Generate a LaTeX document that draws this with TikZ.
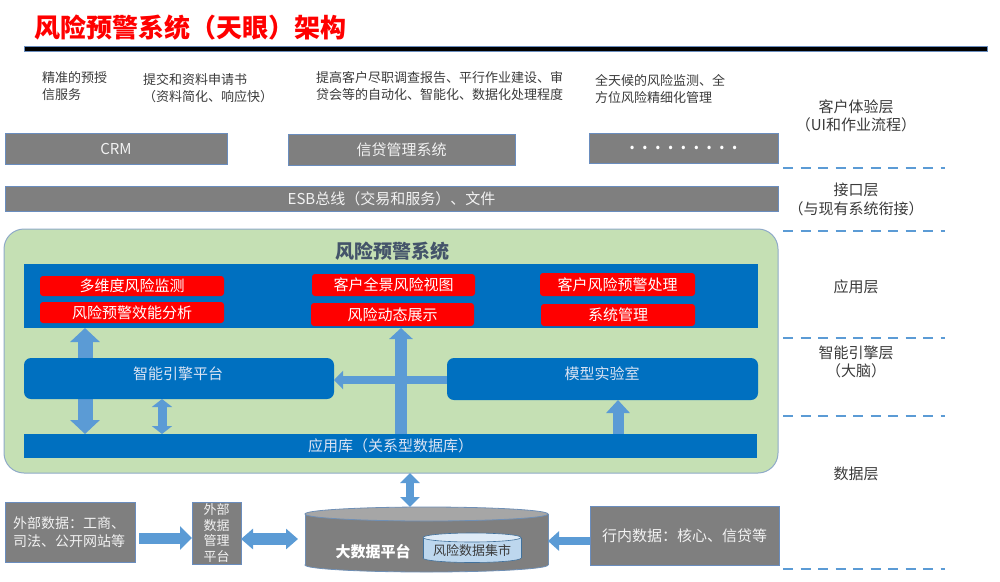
\documentclass[tikz,border=0pt]{standalone}
\usepackage{fontspec}
\setmainfont{Noto Sans CJK SC}
\usetikzlibrary{arrows.meta,calc}
\definecolor{boxgray}{HTML}{7F7F7F}
\definecolor{boxedge}{HTML}{6A8DBE}
\definecolor{boxtext}{HTML}{F2F2F2}
\definecolor{dashblue}{HTML}{5B9BD5}
\definecolor{arrowblue}{HTML}{5B9BD5}
\definecolor{greenfill}{HTML}{C5E0B4}
\definecolor{greenedge}{HTML}{8FAAC8}
\definecolor{appblue}{HTML}{0070C0}
\definecolor{bluetext}{HTML}{DAE3F3}
\definecolor{titlegray}{HTML}{44546A}
\definecolor{darktext}{HTML}{3A3A3A}
\definecolor{cyltop}{HTML}{A6A6A6}
\definecolor{cyledge}{HTML}{6F8FB5}
\definecolor{smallbody}{HTML}{BDD7EE}
\definecolor{smalltop}{HTML}{DEEBF7}
\definecolor{smalledge}{HTML}{41719C}
\newcommand{\fsz}[2]{\fontsize{#1pt}{#2pt}\selectfont}
\begin{document}
\begin{tikzpicture}[x=1pt,y=-1pt,
  every node/.style={inner sep=0pt,outer sep=0pt},
  graybox/.style={fill=boxgray, draw=boxedge, line width=0.8pt, text=boxtext, font=\fsz{15}{18}},
  redbox/.style={fill=red, rounded corners=3pt, text=white, font=\fsz{15}{18}},
  bluebox/.style={fill=appblue},
  toptext/.style={anchor=west, align=left, text=darktext, font=\fsz{13}{17}},
  layertext/.style={align=center, text=darktext, font=\fsz{15}{18.5}},
  layerline/.style={draw=dashblue, line width=2.5pt, dash pattern=on 10pt off 7.5pt},
  varrow/.style n args={3}{draw=arrowblue, line width=#1pt, -{Triangle[width=#2pt,length=#3pt]}},
  dvarrow/.style n args={3}{draw=arrowblue, line width=#1pt, {Triangle[width=#2pt,length=#3pt]}-{Triangle[width=#2pt,length=#3pt]}}
]
\useasboundingbox (0,0) rectangle (1000,581);

% title
\node[text=red, font=\fsz{26}{30}\bfseries] (title) at (190.5,28) {风险预警系统（天眼）架构};
\filldraw[fill=black, draw=boxedge, line width=0.8pt] (24,46) rectangle (987,51);

% top descriptions
\node[toptext] (t1) at (42,86.5) {精准的预授\\信服务};
\node[toptext] (t2) at (143,88.5) {提交和资料申请书\\（资料简化、响应快）};
\node[toptext] (t3) at (316,86.5) {提高客户尽职调查报告、平行作业建设、审\\贷会等的自动化、智能化、数据化处理程度};
\node[toptext] (t4) at (595,88.5) {全天候的风险监测、全\\方位风险精细化管理};

% gray systems
\node[graybox, minimum width=222pt, minimum height=31pt] (crm) at (116,148.5) {CRM};
\node[graybox, minimum width=227pt, minimum height=31pt] (xd) at (401.5,149.5) {信贷管理系统};
\node[graybox, minimum width=189pt, minimum height=30pt, font=\fsz{16}{18}\bfseries, text=white] (dots) at (683.5,148)
  {.\hspace{7.2pt}.\hspace{7.2pt}.\hspace{7.2pt}.\hspace{7.2pt}.\hspace{7.2pt}.\hspace{7.2pt}.\hspace{7.2pt}.\hspace{7.2pt}.};
\node[graybox, minimum width=773pt, minimum height=25pt] (esb) at (391.5,198.5) {ESB总线（交易和服务）、文件};

% layer separators and labels
\coordinate (d1a) at (783,168); \coordinate (d1b) at (945,168);
\coordinate (d2a) at (783,231); \coordinate (d2b) at (945,231);
\coordinate (d3a) at (783,338); \coordinate (d3b) at (945,338);
\coordinate (d4a) at (783,416); \coordinate (d4b) at (945,416);
\coordinate (d5a) at (783,569); \coordinate (d5b) at (945,569);
\draw[layerline] (d1a) -- (d1b);
\draw[layerline] (d2a) -- (d2b);
\draw[layerline] (d3a) -- (d3b);
\draw[layerline] (d4a) -- (d4b);
\draw[layerline] (d5a) -- (d5b);
\node[layertext] (l1) at (856,116) {客户体验层\\（UI和作业流程）};
\node[layertext] (l2) at (856,199.5) {接口层\\（与现有系统衔接）};
\node[layertext] (l3) at (856,287) {应用层};
\node[layertext] (l4) at (856,362) {智能引擎层\\（大脑）};
\node[layertext] (l5) at (856,474) {数据层};

% risk warning system container
\node[fill=greenfill, draw=greenedge, line width=1pt, rounded corners=20pt, minimum width=774pt, minimum height=244pt] (green) at (391,351) {};
\node[text=titlegray, font=\fsz{19}{22}\bfseries] (gtitle) at (392,251) {风险预警系统};
\node[bluebox, minimum width=734pt, minimum height=64pt] (app) at (391,296) {};
\node[redbox, minimum width=184pt, minimum height=20pt] (r1) at (132,286) {多维度风险监测};
\node[redbox, minimum width=184pt, minimum height=21pt] (r2) at (132,312.5) {风险预警效能分析};
\node[redbox, minimum width=163pt, minimum height=22pt] (r3) at (393.5,285) {客户全景风险视图};
\node[redbox, minimum width=163pt, minimum height=23pt] (r4) at (392.5,314.5) {风险动态展示};
\node[redbox, minimum width=155pt, minimum height=23pt] (r5) at (617.5,284.5) {客户风险预警处理};
\node[redbox, minimum width=154pt, minimum height=22pt] (r6) at (618,315) {系统管理};

\node[bluebox, minimum width=733pt, minimum height=24pt, text=bluetext, font=\fsz{15}{18}] (lib) at (390.5,446) {应用库（关系型数据库）};

% arrows inside
\draw[dvarrow={15}{29}{14}] (85,0 |- app.south) -- (85,0 |- lib.north);
\draw[varrow={8}{18}{9}] (447,380) -- (334,380);
\draw[varrow={12}{23}{11}] (401,0 |- lib.north) -- (401,0 |- app.south);

\node[bluebox, rounded corners=7pt, minimum width=310pt, minimum height=41pt] (eng) at (179,378.5) {};
\node[text=bluetext, font=\fsz{15}{18}] (engt) at (178,374) {智能引擎平台};
\node[bluebox, rounded corners=7pt, minimum width=311pt, minimum height=42pt] (model) at (602.5,379) {};
\node[text=bluetext, font=\fsz{15}{18}] (modelt) at (602,374) {模型实验室};

\draw[dvarrow={9}{20}{8}] (162,0 |- eng.south) -- (162,0 |- lib.north);
\draw[varrow={11}{23}{13}] (618,0 |- lib.north) -- (618,0 |- model.south);

% data layer
\node[graybox, minimum width=130pt, minimum height=60pt] (ext) at (70,532) {};
\node[anchor=west, align=left, text=boxtext, font=\fsz{14}{18}] (extt) at (13,532) {外部数据：工商、\\司法、公开网站等};
\node[graybox, minimum width=49pt, minimum height=62pt, font=\fsz{13}{15.7}, align=center] (emp) at (216.5,533) {外部\\数据\\管理\\平台};
\node[graybox, minimum width=189pt, minimum height=59pt] (inner) at (684.5,535.5) {行内数据：核心、信贷等};

% big data cylinder
\filldraw[fill=boxgray, draw=cyledge, line width=0.8pt] (426.5,565) ellipse [x radius=121.5pt, y radius=7pt];
\fill[boxgray] (305,514) rectangle (548,565);
\draw[cyledge, line width=0.8pt] (305,514) -- (305,565) (548,514) -- (548,565);
\filldraw[fill=cyltop, draw=cyledge, line width=0.8pt] (426.5,514) ellipse [x radius=121.5pt, y radius=7pt];
\coordinate (cylN) at (410,507);
\coordinate (cylW) at (305,539);
\coordinate (cylE) at (548,541);
\node[text=white, font=\fsz{15}{18}\bfseries] (bigdata) at (373,552) {大数据平台};
% small cylinder
\filldraw[fill=smallbody, draw=smalledge, line width=0.6pt] (472,558) ellipse [x radius=49pt, y radius=4.5pt];
\fill[smallbody] (423,537.5) rectangle (521,558);
\draw[smalledge, line width=0.6pt] (423,537.5) -- (423,558) (521,537.5) -- (521,558);
\filldraw[fill=smalltop, draw=smalledge, line width=0.6pt] (472,537.5) ellipse [x radius=49pt, y radius=4.5pt];
\node[text=darktext, font=\fsz{13}{16}] (mart) at (472,551) {风险数据集市};

% data arrows
\draw[dvarrow={8}{19}{10}] (410,0 |- green.south) -- (cylN);
\draw[varrow={11}{23}{12}] ($(ext.east |- 0,538)+(4,0)$) -- (emp.west |- 0,538);
\draw[dvarrow={12}{20}{12}, shorten >=7pt] (emp.east |- 0,539) -- (cylW);
\draw[varrow={8}{19}{11}] (inner.west |- 0,541) -- (cylE);
\end{tikzpicture}
\end{document}
